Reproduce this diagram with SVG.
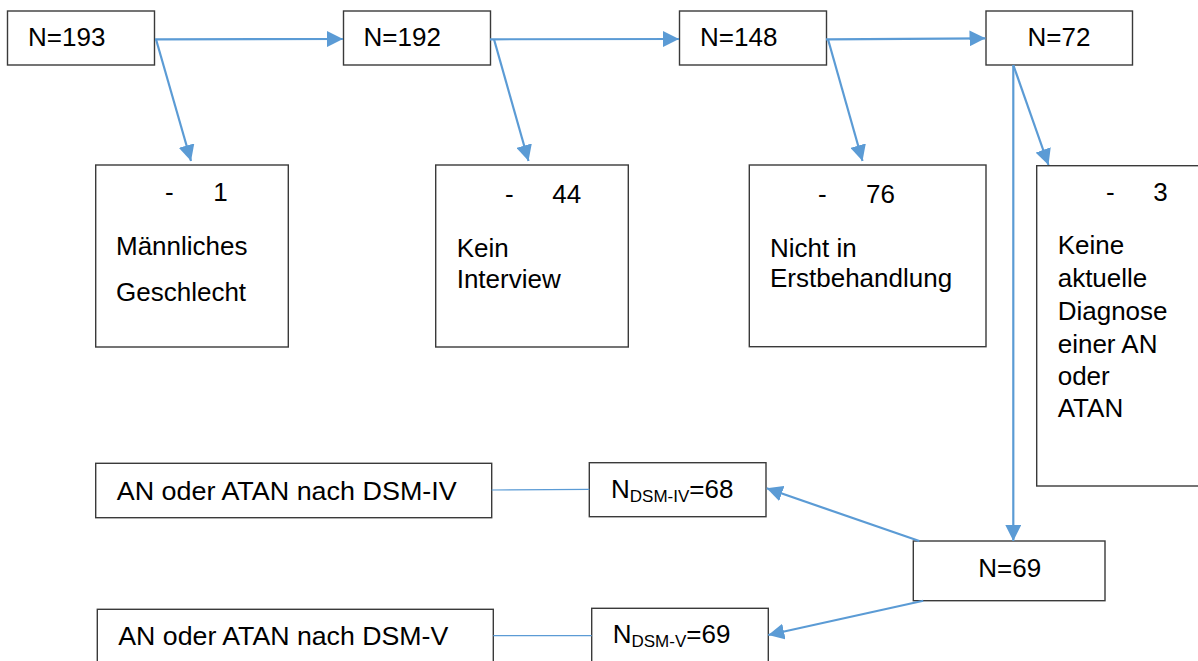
<svg xmlns="http://www.w3.org/2000/svg" width="1198" height="661" viewBox="0 0 1198 661">
<style>
.box{fill:#fff;stroke:#3a3a3a;stroke-width:1.4}
text{font-family:"Liberation Sans",Arial,sans-serif;font-size:26px;fill:#000}
.sub{font-size:17px}
.con{stroke:#5B9BD5;stroke-width:2.2;fill:none}
.thin{stroke:#5B9BD5;stroke-width:1.2;fill:none}
</style>
<defs>
<marker id="ah" markerUnits="userSpaceOnUse" markerWidth="16" markerHeight="16" refX="15" refY="7.5" orient="auto" viewBox="0 0 15 15">
<path d="M0,0 L15,7.5 L0,15 z" fill="#5B9BD5"/>
</marker>
</defs>
<rect width="1198" height="661" fill="#fff"/>
<g id="n193"><rect class="box" x="7.5" y="11" width="147" height="54"/><text x="28" y="46">N=193</text></g>
<g id="n192"><rect class="box" x="343.5" y="11" width="147" height="54"/><text x="363.5" y="46">N=192</text></g>
<g id="n148"><rect class="box" x="679.5" y="11" width="147" height="54"/><text x="700" y="46">N=148</text></g>
<g id="n72"><rect class="box" x="986" y="11" width="146.5" height="54"/><text x="1027.5" y="46">N=72</text></g>
<g id="ex1"><rect class="box" x="95.7" y="165" width="192.6" height="182"/><text y="201"><tspan x="165">-</tspan><tspan x="213.3">1</tspan></text><text x="116" y="255.3">Männliches</text><text x="116" y="300.7">Geschlecht</text></g>
<g id="ex2"><rect class="box" x="435.7" y="165" width="192.6" height="182"/><text y="202.7"><tspan x="505">-</tspan><tspan x="552.3">44</tspan></text><text x="456.7" y="256.7">Kein</text><text x="456.7" y="288.3">Interview</text></g>
<g id="ex3"><rect class="box" x="749.3" y="165" width="236.7" height="181.7"/><text y="202.7"><tspan x="818">-</tspan><tspan x="866">76</tspan></text><text x="770" y="256.7">Nicht in</text><text x="770" y="287.3">Erstbehandlung</text></g>
<g id="ex4"><rect class="box" x="1036.7" y="165.7" width="180" height="320.3"/><text y="200.7"><tspan x="1106">-</tspan><tspan x="1153.3">3</tspan></text><text x="1057.7" y="254.3">Keine</text><text x="1057.7" y="287.3">aktuelle</text><text x="1057.7" y="320">Diagnose</text><text x="1057.7" y="352.7">einer AN</text><text x="1057.7" y="385">oder</text><text x="1057.7" y="417.3">ATAN</text></g>
<g id="n69"><rect class="box" x="913.3" y="541" width="191.7" height="59.7"/><text x="978.3" y="577.3">N=69</text></g>
<g id="ndsm4"><rect class="box" x="589.3" y="462.7" width="176.7" height="54"/><text x="611" y="498.3">N<tspan class="sub" dy="3.4">DSM-IV</tspan><tspan dy="-3.4">=68</tspan></text></g>
<g id="ndsm5"><rect class="box" x="591.7" y="608.3" width="176.6" height="60"/><text x="612.7" y="643.3">N<tspan class="sub" dy="3.4">DSM-V</tspan><tspan dy="-3.4">=69</tspan></text></g>
<g id="dsm4"><rect class="box" x="95.7" y="463.3" width="396" height="54.4"/><text x="116.7" y="500" textLength="340" lengthAdjust="spacingAndGlyphs">AN oder ATAN nach DSM-IV</text></g>
<g id="dsm5"><rect class="box" x="97.3" y="609.3" width="396" height="60"/><text x="118.3" y="645" textLength="330" lengthAdjust="spacingAndGlyphs">AN oder ATAN nach DSM-V</text></g>
<g id="connectors">
<line class="con" x1="155" y1="39.3" x2="343" y2="39" marker-end="url(#ah)"/>
<line class="con" x1="156" y1="39.3" x2="191" y2="161" marker-end="url(#ah)"/>
<line class="con" x1="490" y1="39.3" x2="679" y2="39" marker-end="url(#ah)"/>
<line class="con" x1="494" y1="39.3" x2="528.5" y2="161" marker-end="url(#ah)"/>
<line class="con" x1="826" y1="39.3" x2="985.5" y2="38.3" marker-end="url(#ah)"/>
<line class="con" x1="828" y1="39.3" x2="862.5" y2="161" marker-end="url(#ah)"/>
<line class="con" x1="1013.3" y1="65" x2="1013.3" y2="541" marker-end="url(#ah)"/>
<line class="con" x1="1013.3" y1="65" x2="1048.5" y2="165" marker-end="url(#ah)"/>
<line class="con" x1="919.3" y1="541" x2="766.7" y2="488.3" marker-end="url(#ah)"/>
<line class="con" x1="923.3" y1="600.7" x2="768.3" y2="635" marker-end="url(#ah)"/>
<line class="thin" x1="491.7" y1="490" x2="589.3" y2="489.3"/>
<line class="thin" x1="493.3" y1="635.7" x2="591.7" y2="635.7"/>
</g>
</svg>
